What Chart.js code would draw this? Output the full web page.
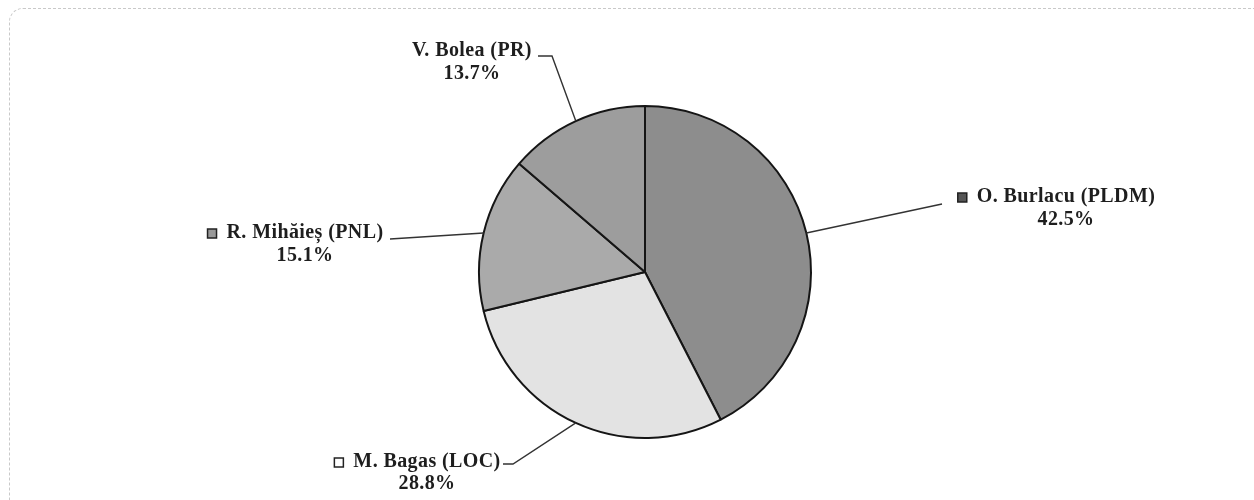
<!DOCTYPE html>
<html>
<head>
<meta charset="utf-8">
<script src="https://cdn.jsdelivr.net/npm/chart.js@4.4.1/dist/chart.umd.min.js"></script>
<style>
  html, body { margin: 0; padding: 0; background: #fff; overflow: hidden; }
  #wrap { position: relative; width: 1254px; height: 500px; }
  #frame {
    position: absolute; left: 9px; top: 8px; width: 1300px; height: 520px;
    border: 1px dashed #c9c9c9; border-radius: 14px; box-sizing: border-box;
  }
  canvas { position: absolute; left: 0; top: 0; }
</style>
</head>
<body>
<div id="wrap">
  <div id="frame"></div>
  <canvas id="pieChart" width="1254" height="500"></canvas>
</div>
<script>
// ==== data ====
const candidates = ["O. Burlacu (PLDM)", "M. Bagas (LOC)", "R. Mihăieș (PNL)", "V. Bolea (PR)"];
const shares = [42.5, 28.8, 15.1, 13.7];
const shareLabels = ["42.5%", "28.8%", "15.1%", "13.7%"];
const sliceColors = ["#8d8d8d", "#e3e3e3", "#aaaaaa", "#9d9d9d"];

// ==== label layout (pixels): text center, line rows, leader elbow/end, marker fill ====
const labelLayout = [
  { cx: 1066, y1: 197, y2: 220, elbow: null, end: [942, 204], marker: "#555" },
  { cx: 427,  y1: 462, y2: 484, elbow: [513, 464], end: [503, 464], marker: "#fff" },
  { cx: 305,  y1: 233, y2: 256, elbow: null, end: [390, 239], marker: "#999" },
  { cx: 472,  y1: 51,  y2: 74,  elbow: [552, 56], end: [538, 56], marker: null }
];

const FONT = "bold 20px 'Liberation Serif', 'Times New Roman', serif";

const calloutPlugin = {
  id: "callouts",
  afterDraw(chart) {
    const ctx = chart.ctx;
    const meta = chart.getDatasetMeta(0);
    ctx.save();
    meta.data.forEach((arc, i) => {
      const p = arc.getProps(["x", "y", "startAngle", "endAngle", "outerRadius"], true);
      const mid = (p.startAngle + p.endAngle) / 2;
      const sx = p.x + Math.cos(mid) * p.outerRadius;
      const sy = p.y + Math.sin(mid) * p.outerRadius;
      const L = labelLayout[i];

      // leader line
      ctx.strokeStyle = "#333";
      ctx.lineWidth = 1.4;
      ctx.beginPath();
      ctx.moveTo(sx, sy);
      if (L.elbow) ctx.lineTo(L.elbow[0], L.elbow[1]);
      ctx.lineTo(L.end[0], L.end[1]);
      ctx.stroke();

      // text
      ctx.font = FONT;
      ctx.letterSpacing = "0.4px";
      ctx.fillStyle = "#1e1e1e";
      ctx.textAlign = "center";
      ctx.textBaseline = "middle";
      ctx.fillText(candidates[i], L.cx, L.y1);
      ctx.fillText(shareLabels[i], L.cx, L.y2);

      // small legend square before the name
      if (L.marker) {
        const w = ctx.measureText(candidates[i]).width;
        const mx = L.cx - w / 2 - 19;
        ctx.fillStyle = L.marker;
        ctx.fillRect(mx, L.y1 - 4, 9, 9);
        ctx.strokeStyle = "#222";
        ctx.lineWidth = 1.5;
        ctx.strokeRect(mx, L.y1 - 4, 9, 9);
      }
    });
    ctx.restore();
  }
};

new Chart(document.getElementById("pieChart").getContext("2d"), {
  type: "pie",
  data: {
    labels: candidates,
    datasets: [{
      data: shares,
      backgroundColor: sliceColors,
      borderColor: "#151515",
      borderWidth: 2
    }]
  },
  options: {
    responsive: false,
    animation: false,
    layout: { padding: { left: 478, right: 442, top: 105, bottom: 61 } },
    plugins: {
      legend: { display: false },
      tooltip: { enabled: false },
      title: { display: false }
    }
  },
  plugins: [calloutPlugin]
});
</script>
</body>
</html>
